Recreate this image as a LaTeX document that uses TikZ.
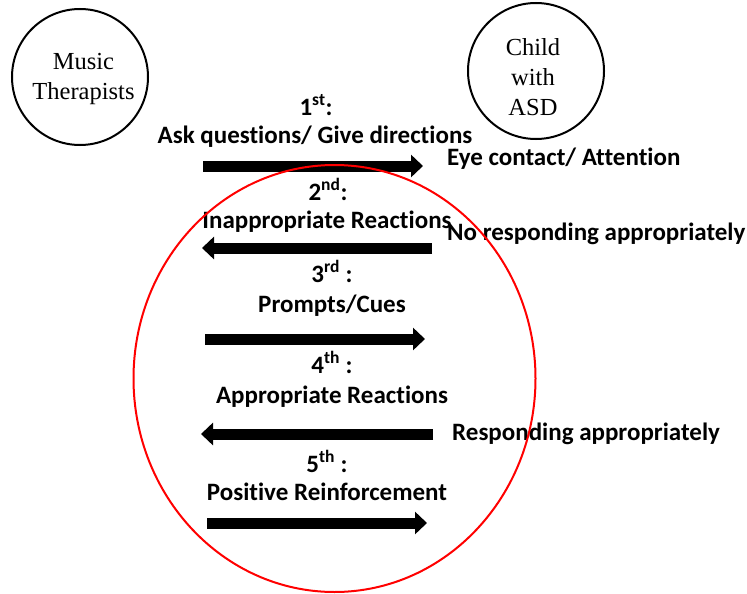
\documentclass[tikz,border=0pt]{standalone}
\usepackage{fontspec}
\usepackage{tikz}
\usetikzlibrary{arrows.meta,positioning,shapes.geometric}

\newfontfamily\bodyfont[Ligatures=NoCommon]{Carlito}
\newfontfamily\circlefont{Liberation Serif}

\begin{document}
\begin{tikzpicture}[x=1pt, y=-1pt,
    person/.style={circle, draw, line width=2pt, minimum size=136pt, inner sep=0pt},
    whois/.style={font=\circlefont\fontsize{24.5}{30}\selectfont, align=center, inner sep=0pt},
    stepno/.style={font=\bodyfont\bfseries\fontsize{25}{28}\selectfont, inner sep=0pt, anchor=base},
    reply/.style={font=\bodyfont\bfseries\fontsize{25}{28}\selectfont, inner sep=0pt, anchor=base west},
    flow/.style={line width=11pt, -{Triangle[length=12pt, width=22pt]}},
    session/.style={ellipse, draw=red, line width=2pt, minimum width=402pt, minimum height=427pt, inner sep=0pt}]

    \useasboundingbox (0,0) rectangle (747,594);

    % the two sides of the interaction
    \node[person] (mt) at (80,77) {};
    \node[whois] (mtname) at (83.5,79.3) {Music\\Therapists};
    \node[person] (child) at (536,71) {};
    \node[whois] (childname) at (533,76.7) {Child\\with\\ASD};

    % steps, left column
    \node[stepno] (s1) at (316,115) {1\textsuperscript{st}:};
    \node[stepno] (s1txt) at (315,143) {Ask questions/ Give directions};
    \node[stepno] (s2) at (328,200) {2\textsuperscript{nd}:};
    \node[stepno] (s2txt) at (327,228) {Inappropriate Reactions};
    \node[stepno] (s3) at (332,282) {3\textsuperscript{rd} :};
    \node[stepno] (s3txt) at (332,312) {Prompts/Cues};
    \node[stepno] (s4) at (332,373) {4\textsuperscript{th} :};
    \node[stepno] (s4txt) at (332,403) {Appropriate Reactions};
    \node[stepno] (s5) at (327,472) {5\textsuperscript{th} :};
    \node[stepno] (s5txt) at (327,500) {Positive Reinforcement};

    % what the child does
    \node[reply] (r1) at (447,165) {Eye contact/ Attention};
    \node[reply] (r2) at (447,240) {No responding appropriately};
    \node[reply] (r4) at (452,440) {Responding appropriately};

    % block arrows
    \coordinate (a1s) at (203,166);
    \coordinate (a1e) at (423,166);
    \coordinate (a2s) at (432,248);
    \coordinate (a2e) at (202,248);
    \coordinate (a3s) at (205,339);
    \coordinate (a3e) at (425,339);
    \coordinate (a4s) at (433,434);
    \coordinate (a4e) at (201,434);
    \coordinate (a5s) at (207,523);
    \coordinate (a5e) at (427,523);

    \draw[flow] (a1s) -- (a1e);
    \draw[flow] (a2s) -- (a2e);
    \draw[flow] (a3s) -- (a3e);
    \draw[flow] (a4s) -- (a4e);
    \draw[flow] (a5s) -- (a5e);

    % the session loop, drawn on top
    \node[session] (loop) at (334.5,378.5) {};

\end{tikzpicture}
\end{document}
